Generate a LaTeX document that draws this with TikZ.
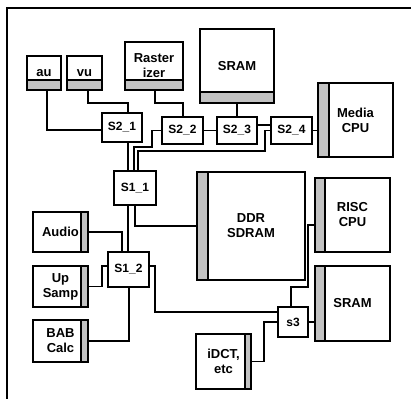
\documentclass[tikz,border=0pt]{standalone}
\usepackage{fontspec}
\setmainfont{Liberation Sans}
\usetikzlibrary{calc}
\definecolor{stripcol}{gray}{0.76}
\begin{document}
\begin{tikzpicture}[x=1pt,y=-1pt,
  blk/.style={draw, line width=1.3pt, fill=white, inner sep=0pt, outer sep=0pt,
    align=center, font=\bfseries\fontsize{13}{15}\selectfont},
  sw/.style={blk, font=\bfseries\fontsize{12}{14}\selectfont},
  wire/.style={line width=1.1pt},
  stripst/.style={draw, line width=1.3pt, fill=stripcol}]

\useasboundingbox (0,0) rectangle (411,398);
\begin{scope}
  \clip (0,0) rectangle (411,398);
  \draw[line width=1.6pt] (7,420) -- (7,8) -- (420,8);
\end{scope}

% blocks
\node[blk, minimum width=34pt, minimum height=34pt] (au) at (44,73) {au};
\node[blk, minimum width=35pt, minimum height=34pt] (vu) at (84.5,73) {vu};
\node[blk, minimum width=58pt, minimum height=48pt] (ras) at (154,66) {Raster\\izer};
\node[blk, minimum width=74pt, minimum height=74pt] (sramt) at (237,66) {SRAM};
\node[blk, minimum width=75pt, minimum height=74pt] (media) at (355.5,120) {Media\\CPU};
\node[blk, minimum width=108pt, minimum height=108pt] (ddr) at (251,226) {DDR\\SDRAM};
\node[blk, minimum width=75pt, minimum height=74pt] (risc) at (352.5,215) {RISC\\CPU};
\node[blk, minimum width=75pt, minimum height=75pt] (sramb) at (352.5,303.5) {SRAM};
\node[blk, minimum width=55pt, minimum height=55pt] (idct) at (223.5,361.5) {iDCT,\\etc};
\node[blk, minimum width=55pt, minimum height=40pt] (audio) at (60.5,232) {Audio};
\node[blk, minimum width=55pt, minimum height=41pt] (up) at (60.5,286.5) {Up\\Samp};
\node[blk, minimum width=55pt, minimum height=42pt] (bab) at (60.5,341) {BAB\\Calc};

% switches
\node[sw, minimum width=40pt, minimum height=29pt] (s21) at (122,127.5) {S2\_1};
\node[sw, minimum width=41pt, minimum height=27pt] (s22) at (182.5,130.5) {S2\_2};
\node[sw, minimum width=40pt, minimum height=27pt] (s23) at (237,130.5) {S2\_3};
\node[sw, minimum width=41pt, minimum height=27pt] (s24) at (291.5,130.5) {S2\_4};
\node[sw, minimum width=42pt, minimum height=34pt] (s11) at (135,188) {S1\_1};
\node[sw, minimum width=41pt, minimum height=35pt] (s12) at (128.5,269.5) {S1\_2};
\node[sw, minimum width=30pt, minimum height=30pt] (s3) at (293,322) {s3};

% strips
\filldraw[stripst] (au.south west) rectangle ([yshift=10pt]au.south east);
\filldraw[stripst] (vu.south west) rectangle ([yshift=10pt]vu.south east);
\filldraw[stripst] (ras.south west) rectangle ([yshift=10pt]ras.south east);
\filldraw[stripst] (sramt.south west) rectangle ([yshift=11pt]sramt.south east);
\filldraw[stripst] (media.north west) rectangle ([xshift=11pt]media.south west);
\filldraw[stripst] (ddr.north west) rectangle ([xshift=11pt]ddr.south west);
\filldraw[stripst] (risc.north west) rectangle ([xshift=10pt]risc.south west);
\filldraw[stripst] (sramb.north west) rectangle ([xshift=10pt]sramb.south west);
\filldraw[stripst] ([xshift=-6pt]idct.north east) rectangle (idct.south east);
\filldraw[stripst] ([xshift=-7pt]audio.north east) rectangle (audio.south east);
\filldraw[stripst] ([xshift=-7pt]up.north east) rectangle (up.south east);
\filldraw[stripst] ([xshift=-7pt]bab.north east) rectangle (bab.south east);

% wires
\draw[wire] ($(au.south)+(3,0)$) |- ($(s21.west)+(0,2.5)$);
\draw[wire] ($(vu.south)+(3.5,0)$) -- ($(vu.south)+(3.5,13)$) -| ($(s21.north)+(6,0)$);
\draw[wire] ($(ras.south)+(1,0)$) -- ($(ras.south)+(1,13)$) -| ($(s22.north)+(0.5,0)$);
\draw[wire] (sramt.south) -- (s23.north);
\draw[wire] (s22.east) -- (s23.west);
\draw[wire] ($(s23.east)+(0,-5.5)$) -- ($(s24.west)+(0,-5.5)$);
\draw[wire] (s24.west) -- ++(-6,0) -- ++(0,20.5) -| ($(s11.north)+(3,0)$);
\draw[wire] (s22.west) -- ++(-10,0) -- ++(0,16.5) -| ($(s11.north)+(-1,0)$);
\draw[wire] ($(s21.south)+(6,0)$) -- ($(s11.north)+(-7,0)$);
\draw[wire] ($(s11.south)+(-7,0)$) -- ($(s12.north)+(-0.5,0)$);
\draw[wire] (s11.south) |- (ddr.west);
\draw[wire] (audio.east) -| ($(s12.north)+(-6.5,0)$);
\draw[wire] (up.east) -- ++(14,0) |- ($(s12.west)+(0,-3.5)$);
\draw[wire] (bab.east) -| ($(s12.south)+(0.5,0)$);
\draw[wire] ($(s12.east)+(0,-3.5)$) -- ++(6,0) |- ($(s3.west)+(0,-10)$);
\draw[wire] (idct.east) -- ++(13,0) |- (s3.west);
\draw[wire] ($(s3.north)+(-2,0)$) -- ++(0,-20) -- ++(17,0) |- ($(risc.west)+(0,10)$);
\draw[wire] (s3.east) -- (s3.east -| sramb.west);
\draw[wire] (s24.east) -- (s24.east -| media.west);
\end{tikzpicture}
\end{document}
